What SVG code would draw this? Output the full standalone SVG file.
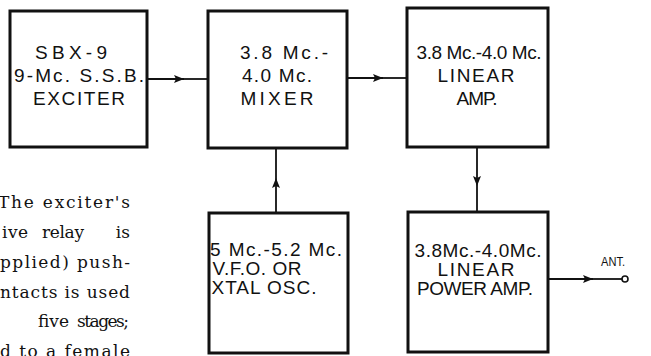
<svg xmlns="http://www.w3.org/2000/svg" width="651" height="356" viewBox="0 0 651 356">
<defs>
<style>
.box{fill:#fff;stroke:#111;stroke-width:3}
.lbl{font-family:"Liberation Sans","DejaVu Sans",sans-serif;font-size:19px;fill:#111;text-anchor:middle}
.ant{font-family:"Liberation Sans","DejaVu Sans",sans-serif;font-size:12px;fill:#111}
.body{font-family:"DejaVu Serif","Liberation Serif",serif;font-size:17px;fill:#111}
.end{text-anchor:end}
.wire{stroke:#111;stroke-width:1.8;fill:none}
</style>
<marker id="ah" viewBox="0 0 10 8" refX="10" refY="4" markerWidth="11" markerHeight="8" markerUnits="userSpaceOnUse" orient="auto">
<path d="M0,0 L10,4 L0,8 L2,4 Z" fill="#111"/>
</marker>
</defs>
<rect width="651" height="356" fill="#fff"/>
<g id="paragraph">
<text class="body end" x="130" y="208" textLength="132" lengthAdjust="spacing">The exciter's</text>
<text class="body" x="2" y="238" textLength="26" lengthAdjust="spacing">ive</text>
<text class="body" x="42" y="238" textLength="42" lengthAdjust="spacing">relay</text>
<text class="body end" x="130" y="238">is</text>
<text class="body end" x="130" y="268" textLength="130" lengthAdjust="spacing">pplied) push-</text>
<text class="body end" x="130" y="298" textLength="130" lengthAdjust="spacing">ntacts is used</text>
<text class="body" x="38" y="327" textLength="31" lengthAdjust="spacing">five</text>
<text class="body end" x="129" y="327" textLength="52" lengthAdjust="spacing">stages;</text>
<text class="body end" x="130" y="357" textLength="130" lengthAdjust="spacing">d to a female</text>
</g>
<g id="connectors">
<line class="wire" x1="147" y1="79" x2="184" y2="79" marker-end="url(#ah)"/>
<line class="wire" x1="184" y1="79" x2="208" y2="79"/>
<line class="wire" x1="347" y1="78" x2="383" y2="78" marker-end="url(#ah)"/>
<line class="wire" x1="383" y1="78" x2="407" y2="78"/>
<line class="wire" x1="276" y1="213" x2="276" y2="178" marker-end="url(#ah)"/>
<line class="wire" x1="276" y1="178" x2="276" y2="148"/>
<line class="wire" x1="477" y1="147" x2="477" y2="186" marker-end="url(#ah)"/>
<line class="wire" x1="477" y1="186" x2="477" y2="212"/>
<line class="wire" x1="548" y1="279" x2="593" y2="279" marker-end="url(#ah)"/>
<line class="wire" x1="593" y1="279" x2="622" y2="279"/>
<circle cx="625" cy="279" r="3" fill="#fff" stroke="#111" stroke-width="1.6"/>
<text class="ant" x="601" y="266" textLength="24" lengthAdjust="spacingAndGlyphs">ANT.</text>
</g>
<g id="exciter">
<rect class="box" x="10" y="11" width="137" height="136"/>
<text class="lbl" x="71" y="59" textLength="72" lengthAdjust="spacing">SBX-9</text>
<text class="lbl" x="79" y="82" textLength="130" lengthAdjust="spacing">9-Mc. S.S.B.</text>
<text class="lbl" x="79" y="105" textLength="92" lengthAdjust="spacing">EXCITER</text>
</g>
<g id="mixer">
<rect class="box" x="208" y="11" width="139" height="137"/>
<text class="lbl" x="284" y="59" textLength="88" lengthAdjust="spacing">3.8 Mc.-</text>
<text class="lbl" x="277" y="82" textLength="70" lengthAdjust="spacing">4.0 Mc.</text>
<text class="lbl" x="277" y="105" textLength="73" lengthAdjust="spacing">MIXER</text>
</g>
<g id="linear-amp">
<rect class="box" x="407" y="8" width="141" height="139"/>
<text class="lbl" x="479" y="59" textLength="125" lengthAdjust="spacing">3.8 Mc.-4.0 Mc.</text>
<text class="lbl" x="476" y="82" textLength="77" lengthAdjust="spacing">LINEAR</text>
<text class="lbl" x="477" y="105" textLength="41" lengthAdjust="spacing">AMP.</text>
</g>
<g id="vfo">
<rect class="box" x="209" y="213" width="139" height="140"/>
<text class="lbl" x="276" y="256" textLength="132" lengthAdjust="spacing">5 Mc.-5.2 Mc.</text>
<text class="lbl" x="257" y="275" textLength="89" lengthAdjust="spacing">V.F.O. OR</text>
<text class="lbl" x="264" y="294" textLength="105" lengthAdjust="spacing">XTAL OSC.</text>
</g>
<g id="power-amp">
<rect class="box" x="408" y="212" width="140" height="140"/>
<text class="lbl" x="478" y="257" textLength="127" lengthAdjust="spacing">3.8Mc.-4.0Mc.</text>
<text class="lbl" x="476" y="276" textLength="77" lengthAdjust="spacing">LINEAR</text>
<text class="lbl" x="475" y="295" textLength="116" lengthAdjust="spacing">POWER AMP.</text>
</g>
</svg>
